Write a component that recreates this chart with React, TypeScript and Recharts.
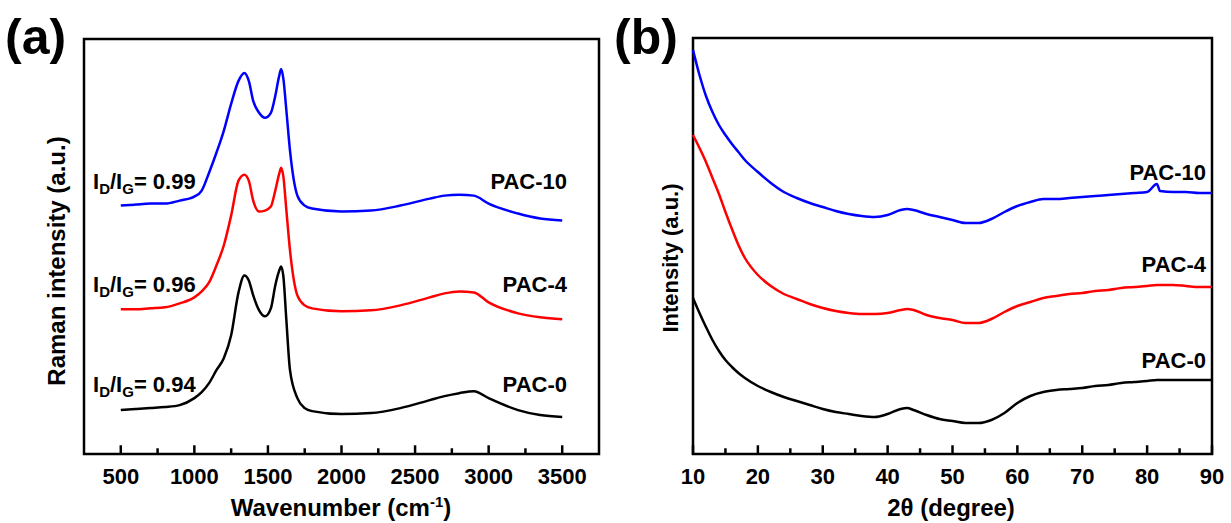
import React from "react";
import { LineChart, Line, XAxis, YAxis, ReferenceArea } from "recharts";

// ---------- Panel (a): Raman ----------
const ramanWavenumber = [500, 600, 700, 800, 900, 1000, 1050, 1100, 1150, 1200, 1250, 1300, 1340, 1370, 1400, 1440, 1480, 1520, 1550, 1575, 1590, 1605, 1625, 1650, 1700, 1750, 1800, 2000, 2200, 2400, 2600, 2700, 2800, 2900, 3000, 3200, 3350, 3500];
const ramanPAC10 = [249, 250, 251, 251, 254, 258, 264, 282, 302, 324, 351, 374, 382, 374, 354, 342, 337, 342, 359, 378, 386, 376, 345, 304, 259, 249, 246, 243, 244, 249, 256, 259, 260, 259, 251, 241, 236, 234];
const ramanPAC4 = [145, 145, 146, 147, 151, 157, 163, 172, 189, 209, 239, 274, 280, 274, 254, 243, 244, 248, 264, 280, 287, 278, 245, 204, 159, 149, 146, 143, 144, 149, 157, 161, 163, 162, 152, 141, 137, 135];
const ramanPAC0 = [44, 45, 46, 47, 49, 56, 62, 71, 84, 96, 119, 162, 179, 174, 159, 144, 138, 146, 169, 183, 188, 178, 135, 84, 56, 46, 43, 40, 41, 46, 54, 58, 61, 63, 56, 44, 39, 37];
const ramanMajor = [500, 1000, 1500, 2000, 2500, 3000, 3500];
const ramanMinor = [750, 1250, 1750, 2250, 2750, 3250];
const ramanRatioLabels = ["0.99", "0.96", "0.94"];

// ---------- Panel (b): XRD ----------
const xrdTwoTheta = [10, 11, 12, 13, 14, 15, 16, 17, 18, 20, 22, 24, 26, 28, 30, 32, 34, 36, 38, 40, 42, 43, 44, 46, 48, 50, 52, 54, 56, 58, 60, 62, 64, 66, 68, 70, 72, 74, 76, 78, 80, 81.5, 82, 84, 86, 88, 90];
const xrdPAC10 = [404, 379, 358, 342, 329, 319, 310, 302, 294, 282, 271, 262, 256, 251, 247, 243, 240, 238, 237, 239, 244, 245, 244, 240, 237, 234, 231, 231, 235, 242, 248, 252, 255, 255, 256, 257, 258, 259, 260, 261, 262, 270, 263, 262, 262, 261, 261];
const xrdPAC4 = [319, 306, 292, 276, 260, 242, 225, 209, 196, 179, 168, 160, 155, 150, 146, 143, 141, 140, 140, 141, 144, 145, 144, 139, 136, 134, 131, 131, 135, 142, 148, 152, 156, 158, 160, 161, 163, 164, 166, 167, 168, 169, 169, 169, 168, 167, 167];
const xrdPAC0 = [156, 141, 127, 114, 103, 94, 87, 81, 76, 68, 62, 57, 53, 49, 45, 42, 40, 38, 37, 40, 45, 46, 44, 39, 35, 33, 31, 31, 34, 41, 51, 58, 62, 64, 65, 66, 68, 69, 71, 72, 73, 74, 74, 74, 74, 74, 74];
const xrdMajor = [10, 20, 30, 40, 50, 60, 70, 80, 90];
const xrdMinor = [15, 25, 35, 45, 55, 65, 75, 85];

const seriesNames = ["PAC-10", "PAC-4", "PAC-0"];
const seriesColors = ["#0000FF", "#FF0000", "#000000"];

const ramanData = ramanWavenumber.map((x, i) => ({ x, pac10: ramanPAC10[i], pac4: ramanPAC4[i], pac0: ramanPAC0[i] }));
const xrdData = xrdTwoTheta.map((x, i) => ({ x, pac10: xrdPAC10[i], pac4: xrdPAC4[i], pac0: xrdPAC0[i] }));

const FONT = "'Liberation Sans', Arial, Helvetica, sans-serif";
const Y_DOMAIN: [number, number] = [0, 416];

function Panel(props: {
  data: any[];
  domain: [number, number];
  majors: number[];
  minors: number[];
  halfTick: number;
  width: number;
  margin: any;
}) {
  const { data, domain, majors, minors, halfTick, width, margin } = props;
  const keys = ["pac10", "pac4", "pac0"];
  const tickMarks = [...majors.map((t) => ({ t, len: 8 })), ...minors.map((t) => ({ t, len: 5 }))];
  return (
    <LineChart width={width} height={523} data={data} margin={margin}>
      <XAxis
        dataKey="x"
        type="number"
        domain={domain}
        ticks={majors}
        interval={0}
        tickSize={-8}
        tickMargin={22}
        tickLine={false}
        axisLine={false}
        height={69}
        tick={{ fontSize: 22, fontWeight: "bold", fill: "#000", fontFamily: FONT }}
      />
      <YAxis type="number" domain={Y_DOMAIN} width={0} tick={false} tickLine={false} axisLine={false} />
      {tickMarks.map((m) => (
        <ReferenceArea
          key={"tk" + m.t}
          x1={m.t - halfTick}
          x2={m.t + halfTick}
          y1={Y_DOMAIN[0]}
          y2={Y_DOMAIN[0] + m.len}
          fill="#000"
          fillOpacity={1}
          stroke="#000"
          strokeWidth={1.5}
          ifOverflow="visible"
        />
      ))}
      <ReferenceArea
        x1={domain[0]}
        x2={domain[1]}
        y1={Y_DOMAIN[0]}
        y2={Y_DOMAIN[1]}
        fill="none"
        stroke="#000"
        strokeWidth={2.5}
        ifOverflow="visible"
      />
      {keys.map((k, i) => (
        <Line
          key={k}
          dataKey={k}
          name={seriesNames[i]}
          type="monotone"
          stroke={seriesColors[i]}
          strokeWidth={2.5}
          dot={false}
          isAnimationActive={false}
        />
      ))}
    </LineChart>
  );
}

const textStyle = { fontFamily: FONT, fontWeight: "bold" as const, fill: "#000" };

export default function App() {
  const ratioY = [189, 292, 392];
  const pacAY = [189, 292, 392];
  const pacBY = [180, 272, 368];
  return (
    <div style={{ position: "absolute", left: 0, top: 0, width: 1231, height: 523, background: "#fff" }}>
      <svg width={1231} height={523} style={{ position: "absolute", left: 0, top: 0 }}>
        <text x={5} y={54} fontSize={50} {...textStyle}>(a)</text>
        <text x={614} y={54} fontSize={50} {...textStyle}>(b)</text>
        <text x={341} y={516} fontSize={24} textAnchor="middle" {...textStyle}>
          Wavenumber (cm<tspan fontSize={15} dy={-9}>-1</tspan><tspan dy={9}>)</tspan>
        </text>
        <text x={951} y={516} fontSize={24} textAnchor="middle" {...textStyle}>2θ (degree)</text>
        <text x={57} y={261} dy="0.35em" fontSize={24} textAnchor="middle" transform="rotate(-90,57,261)" {...textStyle}>Raman intensity (a.u.)</text>
        <text x={670} y={258} dy="0.35em" fontSize={22} textAnchor="middle" transform="rotate(-90,670,258)" {...textStyle}>Intensity (a.u.)</text>
        {ramanRatioLabels.map((r, i) => (
          <text key={r} x={93} y={ratioY[i]} fontSize={22} {...textStyle}>
            I<tspan fontSize={15} dy={5}>D</tspan><tspan dy={-5}>/I</tspan><tspan fontSize={15} dy={5}>G</tspan><tspan dy={-5}>= {r}</tspan>
          </text>
        ))}
        {seriesNames.map((n, i) => (
          <text key={"a" + n} x={567} y={pacAY[i]} fontSize={22} textAnchor="end" {...textStyle}>{n}</text>
        ))}
        {seriesNames.map((n, i) => (
          <text key={"b" + n} x={1206} y={pacBY[i]} fontSize={22} textAnchor="end" {...textStyle}>{n}</text>
        ))}
      </svg>
      <div style={{ position: "absolute", left: 0, top: 0 }}>
        <Panel data={ramanData} domain={[250, 3750]} majors={ramanMajor} minors={ramanMinor} halfTick={3.4} width={620} margin={{ top: 39, right: 21, left: 84, bottom: 0 }} />
      </div>
      <div style={{ position: "absolute", left: 620, top: 0 }}>
        <Panel data={xrdData} domain={[10, 90]} majors={xrdMajor} minors={xrdMinor} halfTick={0.077} width={611} margin={{ top: 38, right: 19, left: 73, bottom: 0 }} />
      </div>
    </div>
  );
}
